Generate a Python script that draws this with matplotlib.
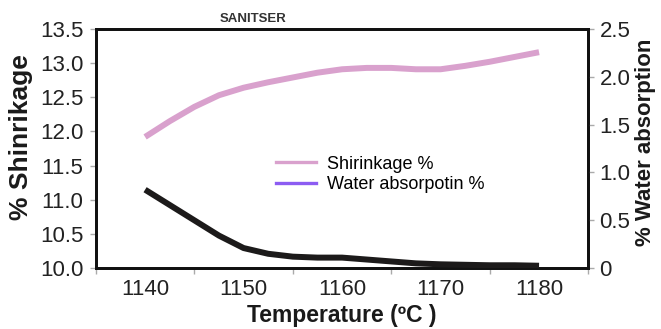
import matplotlib
matplotlib.use("Agg")
import matplotlib.pyplot as plt
from matplotlib.lines import Line2D
from matplotlib.ticker import FixedLocator, FixedFormatter

plt.rcParams['font.family'] = ['Liberation Sans', 'DejaVu Sans']

temperature = [1140, 1142.5, 1145, 1147.5, 1150, 1152.5, 1155, 1157.5, 1160,
               1162.5, 1165, 1167.5, 1170, 1172.5, 1175, 1177.5, 1180]
shrinkage = [11.92, 12.15, 12.36, 12.53, 12.64, 12.72, 12.79, 12.86, 12.91,
             12.93, 12.93, 12.91, 12.91, 12.96, 13.02, 13.09, 13.16]
water_absorption = [0.82, 0.66, 0.50, 0.34, 0.21, 0.15, 0.12, 0.11, 0.11,
                    0.09, 0.07, 0.05, 0.04, 0.035, 0.03, 0.03, 0.025]

x_ticks = [1140, 1150, 1160, 1170, 1180]
left_ticks = [10.0, 10.5, 11.0, 11.5, 12.0, 12.5, 13.0, 13.5]
right_ticks = [0, 0.5, 1.0, 1.5, 2.0, 2.5]
right_labels = ["0", "0.5", "1.0", "1.5", "2.0", "2.5"]

pink = "#d9a1cd"
black = "#1c1a1a"
purple = "#8c5cf2"

fig = plt.figure(figsize=(6.61, 3.29), dpi=100)
ax = fig.add_axes([0.145, 0.185, 0.745, 0.727])
ax2 = ax.twinx()

ax.plot(temperature, shrinkage, color=pink, lw=4.3, solid_capstyle='butt', zorder=3)
ax2.plot(temperature, water_absorption, color=black, lw=4.3, solid_capstyle='butt', zorder=3)

ax.set_xlim(1135, 1185)
ax.set_ylim(10.0, 13.5)
ax2.set_ylim(0, 2.5)

ax.set_xticks(x_ticks)
ax.set_xticks([1135, 1145, 1155, 1165, 1175, 1185], minor=True)
ax.tick_params(axis='x', which='major', length=0, labelsize=16, pad=8, labelcolor='#222222')
ax.tick_params(axis='x', which='minor', length=4, color='#aaaaaa', width=1)

ax.set_yticks(left_ticks)
ax.set_yticklabels([f"{v:.1f}" for v in left_ticks])
ax.tick_params(axis='y', length=4, color='#aaaaaa', width=1, labelsize=16, pad=5, labelcolor='#222222')

ax2.yaxis.set_major_locator(FixedLocator(right_ticks))
ax2.yaxis.set_major_formatter(FixedFormatter(right_labels))
ax2.tick_params(axis='y', length=4, color='#aaaaaa', width=1, labelsize=16, pad=4, labelcolor='#222222')

for a in (ax, ax2):
    for s in a.spines.values():
        s.set_linewidth(2.0)
        s.set_color('#111111')

ax.set_xlabel("Temperature (ºC )", fontsize=16.5, fontweight='bold', color='#1a1a1a')
ax.xaxis.label.set_va('baseline')
ax.xaxis.set_label_coords(0.5, -(322 - 268) / 239)
ax.set_ylabel("% Shinrikage", fontsize=19, fontweight='bold', color='#1a1a1a')
ax.yaxis.set_label_coords(-(96 - 33) / 492, 0.55)
ax2.set_ylabel("% Water absorption", fontsize=16, fontweight='bold', color='#1a1a1a')
ax2.yaxis.set_label_coords((635 - 96) / 492, 0.527)
fig.text(253 / 661, 1 - 19 / 329, "SANITSER", fontsize=9.5, fontweight='bold',
         color='#333333', ha='center', va='center')

handles = [Line2D([0], [0], color=pink, lw=2.4),
           Line2D([0], [0], color=purple, lw=2.4)]
ax2.legend(handles, ["Shirinkage %", "Water absorpotin %"], loc='center left',
           bbox_to_anchor=(0.333, 0.392), frameon=False, fontsize=13,
           handlelength=2.2, handletextpad=0.6, labelspacing=0.2)

fig.savefig("out.png", dpi=100)
